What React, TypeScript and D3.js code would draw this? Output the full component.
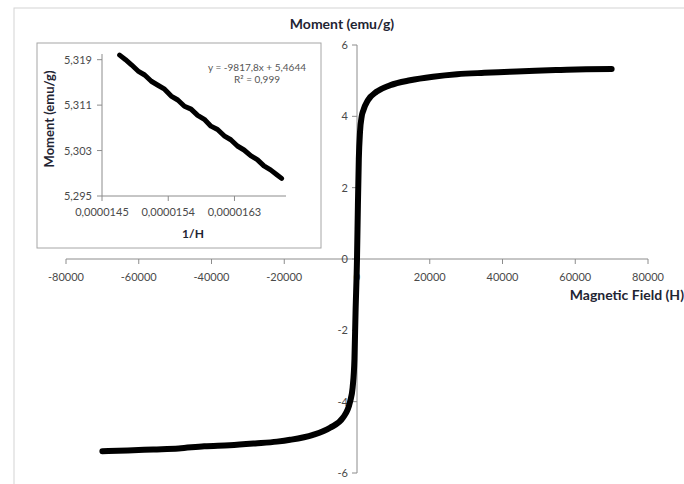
import React from "react";
import * as d3 from "d3";

// Magnetisation loop: applied field (H) vs. moment (emu/g)
const fieldH = [
  -70000, -63000, -56000, -49000, -42000, -35000, -28000, -22000, -18400,
  -12100, -7400, -3850, -1900, -1200, -700, -400, 0, 250, 500, 825, 1300,
  1750, 3000, 5400, 9100, 14600, 20900, 27500, 35000, 42000, 49000, 56000,
  63000, 70000,
];
const momentM = [
  -5.39, -5.37, -5.34, -5.31, -5.25, -5.22, -5.17, -5.12, -5.07, -4.93, -4.73,
  -4.45, -4.0, -3.6, -2.8, -1.5, 0, 1.5, 2.8, 3.56, 4.0, 4.17, 4.45, 4.69,
  4.87, 5.01, 5.11, 5.18, 5.22, 5.25, 5.28, 5.3, 5.32, 5.33,
];
const fieldTicks = [-80000, -60000, -40000, -20000, 0, 20000, 40000, 60000, 80000];
const momentTicks = [-6, -4, -2, 0, 2, 4, 6];

// High-field region: moment vs. 1/H with linear fit
const invH = [
  1.474e-5, 1.482e-5, 1.49e-5, 1.499e-5, 1.508e-5, 1.517e-5, 1.526e-5,
  1.535e-5, 1.544e-5, 1.553e-5, 1.562e-5, 1.571e-5, 1.58e-5, 1.589e-5,
  1.598e-5, 1.607e-5, 1.616e-5, 1.625e-5, 1.634e-5, 1.643e-5, 1.652e-5,
  1.661e-5, 1.67e-5, 1.679e-5, 1.688e-5, 1.694e-5,
];
const insetM = [
  5.3198, 5.319, 5.3181, 5.317, 5.3163, 5.3152, 5.3145, 5.3138, 5.3126,
  5.3119, 5.3108, 5.3103, 5.3092, 5.3085, 5.3073, 5.3067, 5.3056, 5.3049,
  5.3038, 5.3031, 5.3021, 5.3014, 5.3003, 5.2996, 5.2987, 5.2981,
];
const invHTicks = [0.0000145, 0.0000154, 0.0000163];
const invHTickLabels = ["0,0000145", "0,0000154", "0,0000163"];
const insetMTicks = [5.295, 5.303, 5.311, 5.319];
const insetMTickLabels = ["5,295", "5,303", "5,311", "5,319"];
const fitEquation = "y = -9817,8x + 5,4644";
const fitR2 = "R² = 0,999";

const FONT = "Lato, 'Open Sans', sans-serif";
const AXIS = "#8c8c8c";
const LABEL = "#4a4a4a";
const TITLE = "#1f2533";

export default function App() {
  const W = 684;
  const H = 484;

  // main plot scales
  const x = d3.scaleLinear().domain([-80000, 80000]).range([66, 648]);
  const y = d3.scaleLinear().domain([-6, 6]).range([473, 45]);
  const pts = fieldH.map((h, i) => [h, momentM[i]] as [number, number]);
  const mainLine = d3
    .line<[number, number]>()
    .x((d) => x(d[0]))
    .y((d) => y(d[1]))
    .curve(d3.curveMonotoneX)(pts);

  // inset scales
  const ix = d3.scaleLinear().domain([0.0000145, 0.000017]).range([102, 286]);
  const iy = d3.scaleLinear().domain([5.295, 5.32]).range([196, 54]);
  const ipts = invH.map((v, i) => [v, insetM[i]] as [number, number]);
  const insetLine = d3
    .line<[number, number]>()
    .x((d) => ix(d[0]))
    .y((d) => iy(d[1]))(ipts);

  const x0 = x(0);
  const y0 = y(0);

  return (
    <svg
      width={W}
      height={H}
      style={{ position: "absolute", left: 0, top: 0, background: "#fff" }}
      fontFamily={FONT}
    >
      <rect x={0} y={0} width={W} height={H} fill="#fff" />
      {/* chart frame */}
      <rect x={14} y={8} width={W} height={H} fill="none" stroke="#d4d4d4" strokeWidth={1} />

      {/* main axes */}
      <line x1={x(-80000)} x2={x(80000)} y1={y0} y2={y0} stroke={AXIS} strokeWidth={1} />
      <line x1={x0} x2={x0} y1={y(6)} y2={y(-6)} stroke={AXIS} strokeWidth={1} />
      {fieldTicks.map((t) => (
        <g key={"xt" + t}>
          <line x1={x(t)} x2={x(t)} y1={y0} y2={y0 + 5} stroke={AXIS} />
          <text
            x={x(t)}
            y={y0 + 22}
            textAnchor="middle"
            fontSize={11}
            fill={LABEL}
          >
            {t}
          </text>
        </g>
      ))}
      {momentTicks.map((t) => (
        <g key={"yt" + t}>
          <line x1={x0 - 5} x2={x0} y1={y(t)} y2={y(t)} stroke={AXIS} />
          <text
            x={x0 - 9}
            y={y(t) + 4}
            textAnchor="end"
            fontSize={11}
            fill={LABEL}
          >
            {t}
          </text>
        </g>
      ))}
      <text x={342} y={29} textAnchor="middle" fontSize={14} fontWeight="bold" fill={TITLE}>
        Moment (emu/g)
      </text>
      <text x={684} y={300} textAnchor="end" fontSize={14} fontWeight="bold" fill={TITLE}>
        Magnetic Field (H)
      </text>

      {/* main curve */}
      <path
        d={mainLine ?? ""}
        fill="none"
        stroke="#000"
        strokeWidth={6}
        strokeLinecap="round"
        strokeLinejoin="round"
      />

      {/* inset panel */}
      <rect x={37} y={43} width={284} height={205} fill="#fff" stroke="#a6a6a6" strokeWidth={1} />
      <line x1={ix(0.0000145)} x2={ix(0.000017)} y1={iy(5.295)} y2={iy(5.295)} stroke={AXIS} />
      <line x1={ix(0.0000145)} x2={ix(0.0000145)} y1={iy(5.295)} y2={iy(5.32)} stroke={AXIS} />
      {invHTicks.map((t, i) => (
        <g key={"ixt" + i}>
          <line x1={ix(t)} x2={ix(t)} y1={iy(5.295)} y2={iy(5.295) + 5} stroke={AXIS} />
          <text
            x={ix(t)}
            y={iy(5.295) + 20}
            textAnchor="middle"
            fontSize={11}
            fill={LABEL}
          >
            {invHTickLabels[i]}
          </text>
        </g>
      ))}
      {insetMTicks.map((t, i) => (
        <g key={"iyt" + i}>
          <line x1={ix(0.0000145) - 5} x2={ix(0.0000145)} y1={iy(t)} y2={iy(t)} stroke={AXIS} />
          <text
            x={ix(0.0000145) - 10}
            y={iy(t) + 4}
            textAnchor="end"
            fontSize={11}
            fill={LABEL}
          >
            {insetMTickLabels[i]}
          </text>
        </g>
      ))}
      <text x={193} y={238} textAnchor="middle" fontSize={12} fontWeight="bold" fill={TITLE}>
        1/H
      </text>
      <text
        transform={`translate(54, 119) rotate(-90)`}
        textAnchor="middle"
        fontSize={13}
        fontWeight="bold"
        fill={TITLE}
      >
        Moment (emu/g)
      </text>
      <path
        d={insetLine ?? ""}
        fill="none"
        stroke="#000"
        strokeWidth={5}
        strokeLinecap="round"
        strokeLinejoin="round"
      />
      <text x={257} y={71} textAnchor="middle" fontSize={10} fill="#555">
        {fitEquation}
      </text>
      <text x={257} y={83} textAnchor="middle" fontSize={10} fill="#555">
        {fitR2}
      </text>
    </svg>
  );
}
